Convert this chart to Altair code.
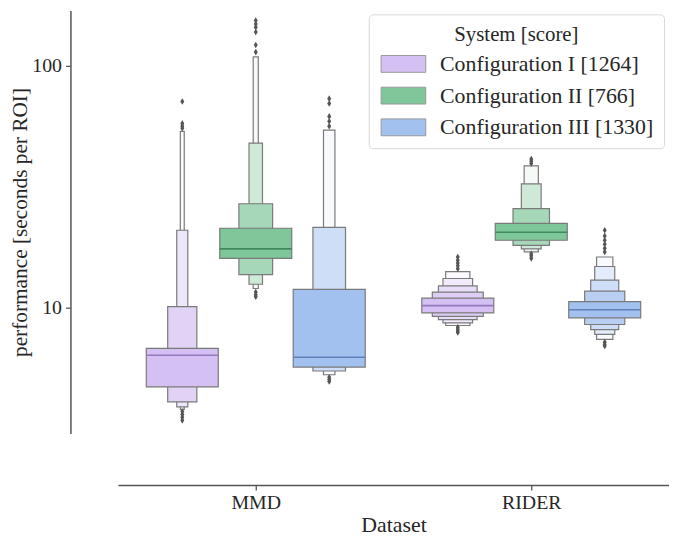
import altair as alt
import pandas as pd

datasets = ["MMD", "RIDER"]
configs = ["Configuration I [1264]", "Configuration II [766]", "Configuration III [1330]"]
base_colors = ["#d4c0f2", "#7fc69a", "#a3c1ee"]
median_colors = ["#9379bd", "#3f8a5b", "#5f81b8"]

# letter-value boxes (innermost = IQR first), medians and outliers
mmd_1_lo = [4.70, 4.08, 3.89, 3.80]
mmd_1_hi = [6.79, 10.1, 20.9, 53.6]
mmd_1_med = 6.36
mmd_1_out = [71.2, 57.8, 56.3, 55.2, 3.72, 3.62, 3.52, 3.42]

mmd_2_lo = [16.0, 13.7, 12.5, 12.0]
mmd_2_hi = [21.3, 26.9, 47.9, 108.9]
mmd_2_med = 17.5
mmd_2_out = [154, 149, 144.5, 138, 122, 114, 11.6, 11.3, 11.1]

mmd_3_lo = [5.68, 5.47, 5.28]
mmd_3_hi = [11.9, 21.5, 54.2]
mmd_3_med = 6.24
mmd_3_out = [73.2, 69.9, 61.8, 59.0, 56.3, 5.15, 5.05, 4.95]

rider_1_lo = [9.51, 9.21, 8.93, 8.65, 8.44]
rider_1_hi = [10.96, 11.6, 12.3, 13.2, 14.1]
rider_1_med = 10.2
rider_1_out = [14.5, 14.9, 15.3, 15.7, 16.2, 8.3, 8.15, 8.0, 7.9]

rider_2_lo = [19.0, 18.1, 17.5, 17.0]
rider_2_hi = [22.3, 25.7, 32.5, 38.6]
rider_2_med = 20.5
rider_2_out = [39.5, 40.3, 41.2, 16.7, 16.4, 16.0]

rider_3_lo = [9.08, 8.52, 8.12, 7.75, 7.39]
rider_3_hi = [10.6, 11.7, 13.0, 14.8, 16.2]
rider_3_med = 9.81
rider_3_out = [17.0, 17.6, 18.3, 19.0, 19.8, 20.9, 7.2, 7.05, 6.94]

groups = {
    (0, 0): (mmd_1_lo, mmd_1_hi, mmd_1_med, mmd_1_out),
    (0, 1): (mmd_2_lo, mmd_2_hi, mmd_2_med, mmd_2_out),
    (0, 2): (mmd_3_lo, mmd_3_hi, mmd_3_med, mmd_3_out),
    (1, 0): (rider_1_lo, rider_1_hi, rider_1_med, rider_1_out),
    (1, 1): (rider_2_lo, rider_2_hi, rider_2_med, rider_2_out),
    (1, 2): (rider_3_lo, rider_3_hi, rider_3_med, rider_3_out),
}


def mix_white(hex_color, t):
    h = hex_color.lstrip("#")
    r, g, b = (int(h[i:i + 2], 16) for i in (0, 2, 4))
    r, g, b = (round(c + (255 - c) * t) for c in (r, g, b))
    return "#%02x%02x%02x" % (r, g, b)


slot = 0.8 / len(configs)
box_rows, med_rows, out_rows = [], [], []
for (di, ci), (lo, hi, med, outs) in groups.items():
    center = di + (ci - (len(configs) - 1) / 2) * slot
    n = len(lo)
    raw = [(1 - 2 ** (-j - 2)) / (hi[j] - lo[j]) for j in range(n)]
    rel = [r / max(raw) for r in raw]
    for j in range(n):
        half = slot * 0.98 / 2 * rel[j]
        box_rows.append(dict(config=configs[ci], level=j, lo=lo[j], hi=hi[j],
                             x0=center - half, x1=center + half,
                             fill=mix_white(base_colors[ci], 0.92 * j / (n - 1))))
    half0 = slot * 0.98 / 2
    med_rows.append(dict(config=configs[ci], med=med, x0=center - half0,
                         x1=center + half0, mcolor=median_colors[ci]))
    for v in outs:
        out_rows.append(dict(config=configs[ci], x=center, v=v))

boxes = pd.DataFrame(box_rows).sort_values("level", ascending=False)
meds = pd.DataFrame(med_rows)
outl = pd.DataFrame(out_rows)

label_expr = "[" + ",".join("'%s'" % d for d in datasets) + "][datum.value]"
xscale = alt.Scale(domain=[-0.5, len(datasets) - 0.5], nice=False, zero=False)
yscale = alt.Scale(type="log", domain=[3.016, 169.6], nice=False)
xaxis = alt.Axis(values=list(range(len(datasets))), labelExpr=label_expr, title="Dataset",
                 offset=52, tickSize=5, labelPadding=3, titlePadding=2,
                 labelFontSize=20, titleFontSize=22, grid=False)
yaxis = alt.Axis(values=[10, 100], format="d", title="performance [seconds per ROI]",
                 offset=48, tickSize=5, labelPadding=4, titlePadding=0,
                 labelFontSize=20, titleFontSize=21.5, grid=False)

outer = alt.Chart(boxes[boxes.level > 0]).mark_rect(stroke="#7a7a7a", strokeWidth=1.2).encode(
    x=alt.X("x0:Q", scale=xscale, axis=xaxis),
    x2="x1:Q",
    y=alt.Y("lo:Q", scale=yscale, axis=yaxis),
    y2="hi:Q",
    fill=alt.Fill("fill:N", scale=None),
)

inner = alt.Chart(boxes[boxes.level == 0]).mark_rect(stroke="#7a7a7a", strokeWidth=1.2).encode(
    x=alt.X("x0:Q", scale=xscale, axis=xaxis),
    x2="x1:Q",
    y=alt.Y("lo:Q", scale=yscale, axis=yaxis),
    y2="hi:Q",
    color=alt.Color("config:N", scale=alt.Scale(domain=configs, range=base_colors),
                    legend=alt.Legend(
                        title="System [score]", orient="none", legendX=253, legendY=4,
                        titleFontSize=21, titleFontWeight="normal", titleAnchor="middle",
                        titleAlign="center", titlePadding=8, labelFontSize=22,
                        labelLimit=0,
                        symbolType="M-1,-1H4.3V1H-1Z", symbolSize=289, labelOffset=40,
                        symbolStrokeColor="#999999", symbolStrokeWidth=1,
                        rowPadding=10, padding=10, strokeColor="#d9d9d9",
                        cornerRadius=4, fillColor="white")),
)

medians = alt.Chart(meds).mark_rule(strokeWidth=1.6).encode(
    x=alt.X("x0:Q", scale=xscale, axis=xaxis),
    x2="x1:Q",
    y=alt.Y("med:Q", scale=yscale, axis=yaxis),
    stroke=alt.Stroke("mcolor:N", scale=None),
)

outliers = alt.Chart(outl).mark_point(shape="M0,-1L0.6,0L0,1L-0.6,0Z", filled=True,
                                      size=45, color="#555555", opacity=1).encode(
    x=alt.X("x:Q", scale=xscale, axis=xaxis),
    y=alt.Y("v:Q", scale=yscale, axis=yaxis),
)

chart = alt.layer(outer, inner, medians, outliers).resolve_scale(
    fill="independent", stroke="independent"
).properties(
    width=556, height=427,
    autosize=alt.AutoSizeParams(type="none"),
    padding={"left": 111, "top": 0, "right": 0, "bottom": 104},
).configure(
    font="Liberation Serif"
).configure_view(
    stroke=None
).configure_axis(
    labelFont="Liberation Serif", titleFont="Liberation Serif",
    labelColor="#262626", titleColor="#262626", titleFontWeight="normal",
    domainColor="#555555", tickColor="#555555", domainWidth=1.5, tickWidth=1.3,
).configure_legend(
    labelFont="Liberation Serif", titleFont="Liberation Serif",
    labelColor="#262626", titleColor="#262626",
)

chart.save("out.html", embed_options={"renderer": "svg", "actions": False})
